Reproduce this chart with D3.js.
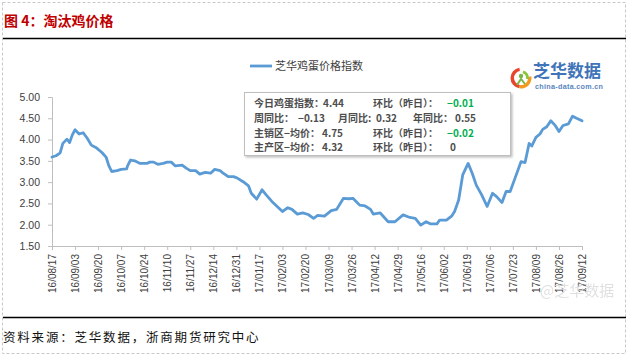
<!DOCTYPE html>
<html><head><meta charset="utf-8">
<script src="https://cdn.jsdelivr.net/npm/d3@7"></script>
<style>
body{margin:0;background:#fff;}
svg{display:block;}
text{font-family:"Liberation Sans",Arial,sans-serif;}
.cjk{font-family:"Noto Sans CJK SC",sans-serif;}
</style></head>
<body><svg id="c" width="630" height="357"></svg>
<script>
// ---- data ----
const startDate = "2016-08-17";
const dayOffsets = [0,3,6,8,11,13,15,17,20,23,26,29,33,37,40,42,44,48,51,55,56,58,61,65,70,72,75,78,82,85,88,91,96,99,102,106,109,113,117,120,124,126,130,134,137,141,145,147,151,155,158,163,170,174,177,181,185,189,193,196,201,206,210,215,219,222,227,231,235,237,242,248,253,259,264,268,272,276,279,284,286,291,295,297,300,303,307,310,313,317,321,325,328,332,335,338,342,346,349,352,354,357,360,362,365,368,371,374,377,381,384,387,391];
const eggIndex = [3.59,3.62,3.69,3.91,4.01,3.93,4.11,4.23,4.13,4.16,4.03,3.87,3.80,3.69,3.58,3.38,3.25,3.27,3.30,3.31,3.40,3.52,3.50,3.44,3.44,3.47,3.47,3.42,3.44,3.47,3.47,3.38,3.40,3.33,3.27,3.27,3.19,3.23,3.21,3.30,3.27,3.22,3.13,3.13,3.09,3.01,2.91,2.74,2.60,2.82,2.70,2.52,2.31,2.40,2.36,2.25,2.28,2.24,2.15,2.22,2.20,2.33,2.36,2.62,2.61,2.62,2.46,2.44,2.36,2.25,2.28,2.07,2.07,2.23,2.17,2.15,1.99,2.07,2.02,2.02,2.11,2.11,2.21,2.31,2.58,3.17,3.44,3.21,2.93,2.70,2.43,2.74,2.66,2.52,2.78,2.78,3.13,3.48,3.46,3.91,3.85,4.05,4.13,4.24,4.30,4.44,4.34,4.19,4.33,4.37,4.55,4.50,4.44];
const xTickLabels = ["16/08/17","16/09/03","16/09/20","16/10/07","16/10/24","16/11/10","16/11/27","16/12/14","16/12/31","17/01/17","17/02/03","17/02/20","17/03/09","17/03/26","17/04/12","17/04/29","17/05/16","17/06/02","17/06/19","17/07/06","17/07/23","17/08/09","17/08/26","17/09/12"];
const yTicks = [1.5,2.0,2.5,3.0,3.5,4.0,4.5,5.0];
const seriesName = "芝华鸡蛋价格指数";
const infoRows = [
  [["今日鸡蛋指数：",0],["4.44",0],["环比（昨日）：",0],["−0.01",1]],
  [["周同比：",0],["−0.13",0],["月同比:",0],["0.32",0],["年同比：",0],["0.55",0]],
  [["主销区−均价：",0],["4.75",0],["环比（昨日）：",0],["−0.02",1]],
  [["主产区−均价：",0],["4.32",0],["环比（昨日）：",0],["0",0]]
];
const infoX = [
  [254,323,373,447],
  [254,298,338,376,413,455],
  [254,322,373,447],
  [254,322,373,450]
];

// ---- chart ----
const svg = d3.select("#c");
const parse = d3.timeParse("%Y-%m-%d");
const parseTick = d3.timeParse("%y/%m/%d");
const fmtTick = d3.timeFormat("%y/%m/%d");
const t0 = parse(startDate);
const data = dayOffsets.map((d,i)=>({date:d3.timeDay.offset(t0,d), v:eggIndex[i]}));
const tickDates = xTickLabels.map(parseTick);

// outer dashed frame
svg.append("rect").attr("x",2.5).attr("y",2.5).attr("width",623).attr("height",351)
  .attr("fill","none").attr("stroke","#c8c8c8").attr("stroke-dasharray","3,2");

// title
svg.append("text").attr("class","cjk").attr("x",4).attr("y",26)
  .attr("font-size",14).attr("font-weight","bold").attr("fill","#c00000")
  .text("图 4：淘汰鸡价格");
svg.append("line").attr("x1",3).attr("x2",626).attr("y1",38.5).attr("y2",38.5)
  .attr("stroke","#000").attr("stroke-width",1.6);
svg.append("line").attr("x1",3).attr("x2",626).attr("y1",317.5).attr("y2",317.5)
  .attr("stroke","#000").attr("stroke-width",1.6);
svg.append("text").attr("class","cjk").attr("x",3).attr("y",342)
  .attr("font-size",12.5).attr("letter-spacing","1.8px").attr("fill","#111")
  .text("资料来源：芝华数据，浙商期货研究中心");

const x = d3.scaleTime().domain([parseTick("16/08/17"), parseTick("17/09/12")]).range([52,582]);
const y = d3.scaleLinear().domain([1.5,5]).range([246,97]);

// y axis
const gy = svg.append("g").attr("transform","translate(52,0)")
  .call(d3.axisLeft(y).tickValues(yTicks).tickFormat(d3.format(".2f")).tickSize(4).tickPadding(8));
gy.select(".domain").attr("stroke","#bfbfbf");
gy.selectAll(".tick line").attr("stroke","#bfbfbf");
gy.selectAll("text").attr("font-size",10.5).attr("fill","#404040")
  .attr("font-family","'Liberation Sans',Arial,sans-serif");

// x axis
const gx = svg.append("g").attr("transform","translate(0,246)")
  .call(d3.axisBottom(x).tickValues(tickDates).tickFormat(fmtTick).tickSize(4).tickSizeOuter(0));
gx.select(".domain").attr("stroke","#bfbfbf");
gx.selectAll(".tick line").attr("stroke","#bfbfbf");
gx.selectAll("text").attr("font-size",10).attr("fill","#404040")
  .attr("font-family","'Liberation Sans',Arial,sans-serif")
  .attr("transform","rotate(-90)").attr("text-anchor","end")
  .attr("x",-8).attr("y",0).attr("dy","0.35em");

// line
svg.append("path").datum(data)
  .attr("d", d3.line().x(d=>x(d.date)).y(d=>y(d.v)))
  .attr("fill","none").attr("stroke","#5b9bd5").attr("stroke-width",2.8)
  .attr("stroke-linejoin","round").attr("stroke-linecap","round");

// legend
svg.append("line").attr("x1",250).attr("x2",272).attr("y1",66).attr("y2",66)
  .attr("stroke","#5b9bd5").attr("stroke-width",2.8);
svg.append("text").attr("class","cjk").attr("x",275).attr("y",70)
  .attr("font-size",11).attr("fill","#404040").text(seriesName);

// logo
const logo = svg.append("g");
logo.append("path").attr("d", d3.arc()({innerRadius:7,outerRadius:10.5,startAngle:-Math.PI*0.95,endAngle:-Math.PI*0.05}))
  .attr("transform","translate(521,78)").attr("fill","#e8452c");
logo.append("path").attr("d", d3.arc()({innerRadius:7,outerRadius:10.5,startAngle:-Math.PI*1.55,endAngle:-Math.PI*0.95}))
  .attr("transform","translate(521,78)").attr("fill","#f39a1e");
logo.append("path").attr("d", d3.arc()({innerRadius:5,outerRadius:8,startAngle:Math.PI*0.1,endAngle:Math.PI*0.55}))
  .attr("transform","translate(521,78)").attr("fill","#8cc63f");
logo.append("circle").attr("cx",521).attr("cy",76).attr("r",2.2).attr("fill","#7ab648");
logo.append("path").attr("d","M517,85 L521,79 L525,84").attr("stroke","#7ab648").attr("stroke-width",2).attr("fill","none");
logo.append("text").attr("class","cjk").attr("x",533).attr("y",77).attr("font-size",17)
  .attr("font-weight","bold").attr("fill","#3f74b8").text("芝华数据");
logo.append("text").attr("x",535).attr("y",89).attr("font-size",7.2).attr("font-weight","bold")
  .attr("fill","#5a86c0").attr("letter-spacing","0.3px").text("china-data.com.cn");

// info box
const defs = svg.append("defs");
const f = defs.append("filter").attr("id","sh").attr("x","-5%").attr("y","-5%").attr("width","115%").attr("height","130%");
f.append("feDropShadow").attr("dx",1.5).attr("dy",1.5).attr("stdDeviation",1.2).attr("flood-color","#000").attr("flood-opacity",0.25);
svg.append("rect").attr("x",244.5).attr("y",92.5).attr("width",266).attr("height",63)
  .attr("fill","#fff").attr("stroke","#bfbfbf").attr("filter","url(#sh)");
const rowY = [107,122,136.5,151];
infoRows.forEach((row,ri)=>{
  row.forEach((seg,si)=>{
    svg.append("text").attr("class","cjk").attr("x",infoX[ri][si]).attr("y",rowY[ri])
      .attr("font-size",10).attr("font-weight","bold")
      .attr("fill", seg[1] ? "#00b050" : "#4d4d4d").text(seg[0]);
  });
});

// watermark
svg.append("text").attr("class","cjk").attr("x",540).attr("y",296).attr("font-size",15)
  .attr("fill","#d9d9d9").attr("opacity",0.8).text("@芝华数据");
</script></body></html>
